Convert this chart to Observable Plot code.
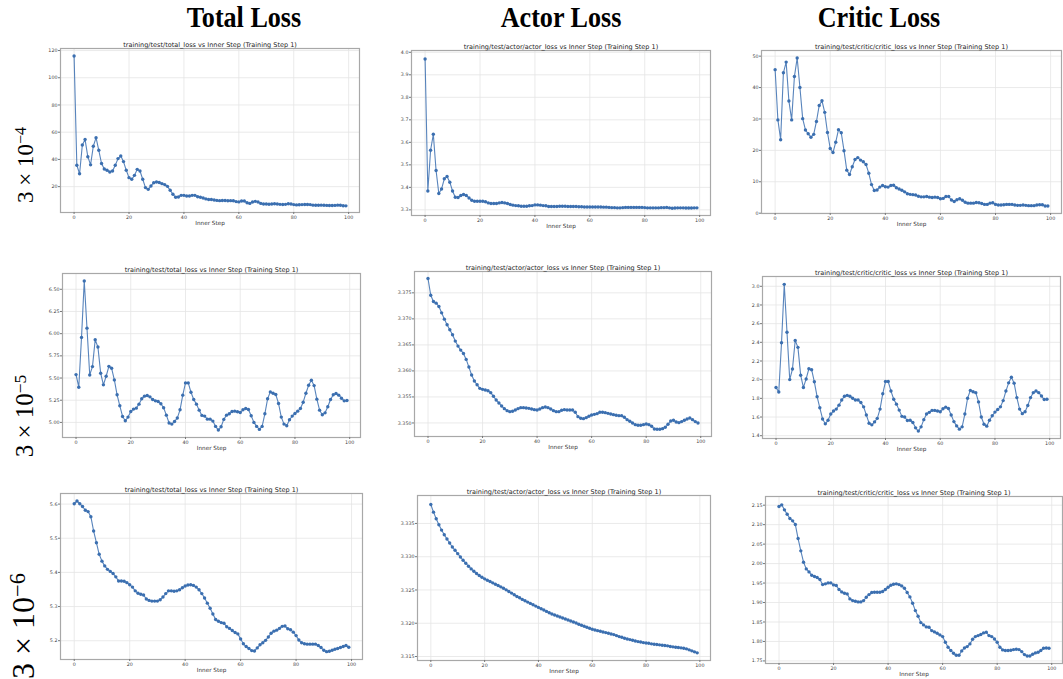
<!DOCTYPE html>
<html><head><meta charset="utf-8">
<script src="https://cdn.jsdelivr.net/npm/d3@7"></script>
<script src="https://cdn.jsdelivr.net/npm/@observablehq/plot@0.6"></script>
<style>
body{margin:0;background:#fff;}
#wrap{position:relative;width:1063px;height:679px;overflow:hidden;background:#fff;}
.col{position:absolute;top:0px;font-family:"Liberation Serif",serif;font-weight:bold;font-size:30px;line-height:34px;transform:translateX(-50%) scaleX(0.87);white-space:nowrap;color:#000;}
.row{position:absolute;font-family:"Liberation Serif",serif;white-space:nowrap;transform:translate(-50%,-50%) rotate(-90deg);color:#000;}
.row sup{font-size:0.7em;vertical-align:0.4em;line-height:0;}
.panel{position:absolute;}
</style></head>
<body><div id="wrap"></div>
<script>
// ---------- data ----------
const steps = d3.range(100);
const xTicks = [0, 20, 40, 60, 80, 100];
const colTitles = ["Total Loss", "Actor Loss", "Critic Loss"];
const rowBase = ["3 × 10", "3 × 10", "3 × 10"];
const rowExp = ["−4", "−5", "−6"];
const panelTitles = [
  "training/test/total_loss vs Inner Step (Training Step 1)",
  "training/test/actor/actor_loss vs Inner Step (Training Step 1)",
  "training/test/critic/critic_loss vs Inner Step (Training Step 1)"
];
const xLabel = "Inner Step";

// row 1 : 3e-4
const total4 = [116, 35.7, 29.5, 50.6, 54.6, 42, 36, 49.7, 56, 46.7,
  37, 33, 32, 30.8, 31.5, 35.7, 40.6, 42.5, 38.4, 32,
  26.6, 25.4, 28.3, 32.7, 31.5, 25.4, 19.3, 18, 20.5, 22.9,
  23.4, 23, 22.2, 21.5, 20.2, 17.3, 14.4, 12.2, 12.4, 13.6,
  13.6, 13.1, 13.1, 13.6, 13.6, 12.6, 12.2, 11.7, 11, 10.5,
  10.5, 10.2, 9.9, 9.7, 9.8, 9.8, 9.6, 9.7, 9.6, 9.0,
  8.8, 9.5, 9.5, 8.2, 7.7, 8.7, 9.2, 8.7, 7.7, 7.3,
  7.2, 7.1, 7.3, 7.4, 7.2, 7.0, 6.9, 7.0, 7.4, 7.3,
  6.8, 6.6, 6.7, 6.8, 6.9, 6.9, 6.8, 6.4, 6.3, 6.3,
  6.4, 6.3, 6.2, 6.1, 6.1, 6.2, 6.4, 6.3, 6.0, 5.9];
const actor4 = [3.97, 3.384, 3.565, 3.636, 3.475, 3.373, 3.393, 3.438, 3.448, 3.423,
  3.384, 3.356, 3.355, 3.364, 3.368, 3.364, 3.353, 3.343, 3.338, 3.338,
  3.338, 3.338, 3.336, 3.331, 3.328, 3.328, 3.328, 3.331, 3.333, 3.331,
  3.328, 3.324, 3.321, 3.319, 3.318, 3.316, 3.316, 3.316, 3.318, 3.319,
  3.322, 3.322, 3.321, 3.319, 3.318, 3.315, 3.315, 3.315, 3.315, 3.316,
  3.316, 3.316, 3.315, 3.315, 3.315, 3.315, 3.314, 3.314, 3.313, 3.313,
  3.313, 3.313, 3.313, 3.313, 3.313, 3.312, 3.312, 3.311, 3.310, 3.310,
  3.309, 3.309, 3.310, 3.311, 3.311, 3.311, 3.311, 3.311, 3.311, 3.311,
  3.310, 3.309, 3.309, 3.309, 3.309, 3.309, 3.310, 3.310, 3.311, 3.309,
  3.307, 3.308, 3.309, 3.309, 3.309, 3.308, 3.308, 3.308, 3.309, 3.309];
const critic4 = [45.7, 29.7, 23.4, 44.7, 48.1, 35.7, 29.7, 43.5, 49.4, 40,
  30.1, 26.5, 25.3, 24.2, 25.1, 29.2, 34.3, 35.8, 32.1, 25.7,
  20.6, 19.3, 22.6, 26.6, 25.6, 19.9, 13.7, 12.3, 14.8, 17.1,
  17.7, 16.9, 16.4, 15.5, 12.7, 9.1, 7.2, 7.4, 8.3, 8.8,
  8.4, 8.3, 8.8, 8.9, 8.1, 7.7, 7.3, 6.8, 6.2, 6.0,
  5.9, 5.8, 5.4, 5.2, 5.2, 5.3, 5.1, 5.0, 5.1, 5.0,
  4.6, 4.7, 5.3, 5.3, 4.2, 3.7, 4.3, 4.6, 4.1, 3.5,
  3.2, 3.2, 3.2, 3.4, 3.3, 3.1, 2.8, 2.8, 3.2, 3.3,
  2.8, 2.6, 2.6, 2.7, 2.8, 2.8, 2.8, 2.6, 2.5, 2.5,
  2.6, 2.5, 2.4, 2.4, 2.4, 2.6, 2.7, 2.7, 2.3, 2.3];

// row 2 : 3e-5
const total5 = [5.539, 5.397, 5.958, 6.594, 6.062, 5.535, 5.629, 5.932, 5.849, 5.554,
  5.423, 5.52, 5.632, 5.61, 5.479, 5.311, 5.187, 5.067, 5.019, 5.06,
  5.123, 5.15, 5.161, 5.206, 5.266, 5.296, 5.303, 5.288, 5.258, 5.243,
  5.236, 5.21, 5.165, 5.082, 4.993, 4.981, 5.011, 5.049, 5.142, 5.307,
  5.445, 5.445, 5.34, 5.258, 5.206, 5.138, 5.079, 5.071, 5.037, 5.037,
  5.015, 4.955, 4.914, 4.951, 5.034, 5.082, 5.097, 5.123, 5.127, 5.12,
  5.112, 5.142, 5.157, 5.146, 5.075, 5.0, 4.955, 4.921, 4.955, 5.097,
  5.266, 5.344, 5.329, 5.314, 5.213, 5.06, 4.981, 4.963, 5.03, 5.071,
  5.101, 5.127, 5.157, 5.228, 5.329, 5.419, 5.475, 5.415, 5.262, 5.138,
  5.086, 5.108, 5.176, 5.258, 5.311, 5.325, 5.307, 5.273, 5.243, 5.247];
const actor5 = [3.37775, 3.37455, 3.37334, 3.37302, 3.37238, 3.37116, 3.36995, 3.36886, 3.36790, 3.36694,
  3.36573, 3.36477, 3.36400, 3.36336, 3.36221, 3.36074, 3.35921, 3.35806, 3.35735, 3.35665,
  3.35646, 3.35633, 3.35620, 3.35582, 3.35512, 3.35441, 3.35384, 3.35326, 3.35275, 3.35237,
  3.35217, 3.35224, 3.35249, 3.35275, 3.35294, 3.35294, 3.35288, 3.35281, 3.35269, 3.35256,
  3.35249, 3.35269, 3.35294, 3.35307, 3.35294, 3.35269, 3.35237, 3.35217, 3.35217, 3.35243,
  3.35256, 3.35249, 3.35249, 3.35249, 3.35205, 3.35121, 3.35090, 3.35083, 3.35102, 3.35128,
  3.35153, 3.35166, 3.35179, 3.35205, 3.35205, 3.35198, 3.35185, 3.35173, 3.35160, 3.35147,
  3.35141, 3.35141, 3.35109, 3.35064, 3.35032, 3.35000, 3.34968, 3.34955, 3.34955, 3.34968,
  3.34981, 3.34968, 3.34936, 3.34885, 3.34879, 3.34879, 3.34891, 3.34917, 3.34974, 3.35038,
  3.35051, 3.35019, 3.35006, 3.35026, 3.35051, 3.35077, 3.35096, 3.35064, 3.35026, 3.35000];
const critic5 = [1.917, 1.868, 2.395, 3.021, 2.508, 2.001, 2.114, 2.42, 2.346, 2.047,
  1.917, 2.008, 2.117, 2.107, 1.977, 1.818, 1.699, 1.579, 1.527, 1.565,
  1.632, 1.664, 1.685, 1.727, 1.783, 1.822, 1.832, 1.822, 1.801, 1.783,
  1.783, 1.755, 1.709, 1.622, 1.534, 1.516, 1.548, 1.586, 1.685, 1.85,
  1.98, 1.98, 1.878, 1.79, 1.738, 1.674, 1.607, 1.6, 1.562, 1.565,
  1.541, 1.484, 1.449, 1.495, 1.572, 1.632, 1.65, 1.671, 1.671, 1.664,
  1.657, 1.688, 1.706, 1.692, 1.622, 1.551, 1.505, 1.47, 1.495, 1.632,
  1.801, 1.885, 1.871, 1.861, 1.762, 1.6, 1.523, 1.502, 1.565, 1.614,
  1.653, 1.681, 1.709, 1.776, 1.878, 1.966, 2.026, 1.963, 1.808, 1.685,
  1.636, 1.657, 1.723, 1.808, 1.861, 1.878, 1.861, 1.825, 1.787, 1.79];

// row 3 : 3e-6
const total6 = [5.601, 5.609, 5.601, 5.593, 5.582, 5.578, 5.563, 5.521, 5.487, 5.453,
  5.433, 5.419, 5.409, 5.403, 5.397, 5.387, 5.375, 5.375, 5.374, 5.37,
  5.364, 5.357, 5.346, 5.339, 5.336, 5.334, 5.322, 5.318, 5.316, 5.316,
  5.316, 5.32, 5.328, 5.338, 5.346, 5.346, 5.345, 5.346, 5.349, 5.355,
  5.36, 5.363, 5.364, 5.362, 5.357, 5.349, 5.338, 5.325, 5.31, 5.295,
  5.278, 5.262, 5.257, 5.253, 5.251, 5.241, 5.236, 5.23, 5.224, 5.22,
  5.205, 5.191, 5.183, 5.177, 5.171, 5.17, 5.179, 5.188, 5.194, 5.201,
  5.211, 5.222, 5.228, 5.231, 5.236, 5.242, 5.243, 5.235, 5.232, 5.225,
  5.215, 5.202, 5.194, 5.191, 5.19, 5.19, 5.19, 5.19, 5.186, 5.18,
  5.172, 5.168, 5.169, 5.172, 5.175, 5.177, 5.18, 5.183, 5.186, 5.181];
const actor6 = [3.33784, 3.33670, 3.33570, 3.33480, 3.33400, 3.33330, 3.33266, 3.33206, 3.33146, 3.33096,
  3.33046, 3.32996, 3.32946, 3.32901, 3.32857, 3.32817, 3.32782, 3.32747, 3.32717, 3.32692,
  3.32667, 3.32647, 3.32627, 3.32607, 3.32587, 3.32567, 3.32547, 3.32527, 3.32502, 3.32478,
  3.32453, 3.32428, 3.32403, 3.32383, 3.32358, 3.32338, 3.32318, 3.32298, 3.32278, 3.32258,
  3.32238, 3.32218, 3.32198, 3.32178, 3.32158, 3.32138, 3.32123, 3.32108, 3.32094, 3.32079,
  3.32064, 3.32049, 3.32034, 3.32019, 3.32004, 3.31984, 3.31969, 3.31954, 3.31939, 3.31924,
  3.31909, 3.31899, 3.31889, 3.31879, 3.31869, 3.31859, 3.31849, 3.31839, 3.31829, 3.31814,
  3.31799, 3.31789, 3.31774, 3.31764, 3.31754, 3.31744, 3.31734, 3.31724, 3.31719, 3.31709,
  3.31704, 3.31699, 3.31690, 3.31685, 3.31680, 3.31675, 3.31670, 3.31665, 3.31660, 3.31650,
  3.31645, 3.31640, 3.31635, 3.31630, 3.31625, 3.31615, 3.31600, 3.31585, 3.31570, 3.31555];
const critic6 = [2.1466, 2.1509, 2.138, 2.1269, 2.1157, 2.1097, 2.1003, 2.0643, 2.0327, 2.0035,
  1.9864, 1.9787, 1.9701, 1.9667, 1.9641, 1.959, 1.9461, 1.9479, 1.9504, 1.9504,
  1.9453, 1.9436, 1.9333, 1.9273, 1.9239, 1.9222, 1.9093, 1.905, 1.9033, 1.9016,
  1.9016, 1.905, 1.9136, 1.9204, 1.9256, 1.9264, 1.9264, 1.9264, 1.9282, 1.9333,
  1.9393, 1.9444, 1.947, 1.9479, 1.9461, 1.9427, 1.9367, 1.9256, 1.9145, 1.8982,
  1.8793, 1.8648, 1.8485, 1.8425, 1.8374, 1.8365, 1.8279, 1.8245, 1.8211, 1.8168,
  1.8125, 1.798, 1.7851, 1.7766, 1.7697, 1.7646, 1.7646, 1.7757, 1.7834, 1.7868,
  1.7937, 1.8057, 1.8125, 1.8151, 1.8177, 1.822, 1.8237, 1.8151, 1.8125, 1.8065,
  1.798, 1.7851, 1.7783, 1.7766, 1.7766, 1.7774, 1.7791, 1.78, 1.7791, 1.774,
  1.7663, 1.7628, 1.7628, 1.7671, 1.7706, 1.7723, 1.7766, 1.7825, 1.7834, 1.7825];

// y tick labels for each panel
const yTicks = [
  [[20, 40, 60, 80, 100, 120], [3.3, 3.4, 3.5, 3.6, 3.7, 3.8, 3.9, 4.0], [0, 10, 20, 30, 40, 50]],
  [[5.0, 5.25, 5.5, 5.75, 6.0, 6.25, 6.5], [3.350, 3.355, 3.360, 3.365, 3.370, 3.375], [1.4, 1.6, 1.8, 2.0, 2.2, 2.4, 2.6, 2.8, 3.0]],
  [[5.2, 5.3, 5.4, 5.5, 5.6], [3.315, 3.320, 3.325, 3.330, 3.335], [1.75, 1.80, 1.85, 1.90, 1.95, 2.00, 2.05, 2.10, 2.15]]
];
const yFormats = [["d", ".1f", "d"], [".2f", ".3f", ".1f"], [".1f", ".3f", ".2f"]];
const series = [[total4, actor4, critic4], [total5, actor5, critic5], [total6, actor6, critic6]];

// ---------- layout ----------
const yDomains = [
  [[1.0, 121.5], [3.275, 4.008], [-0.1, 51.8]],
  [[4.83, 6.678], [3.3474, 3.3791], [1.37, 3.105]],
  [[5.145, 5.631], [3.3144, 3.3392], [1.7434, 2.1723]]
];
const boxes = [
  [{x: 60, y: 48, w: 299, h: 164}, {x: 411, y: 50, w: 299, h: 165}, {x: 761, y: 50, w: 300, h: 163}],
  [{x: 62, y: 273, w: 298, h: 164}, {x: 414, y: 271, w: 297, h: 165}, {x: 762, y: 276, w: 298, h: 162}],
  [{x: 60, y: 493, w: 302, h: 166}, {x: 417, y: 495, w: 293, h: 165}, {x: 765, y: 496, w: 297, h: 167}]
];
const colCenters = [244, 561, 879];
const rowCenters = [{x: 25, y: 165, fs: 23}, {x: 25, y: 416, fs: 25}, {x: 23, y: 626, fs: 32}];

const wrap = document.getElementById("wrap");
colTitles.forEach((t, i) => {
  const d = document.createElement("div");
  d.className = "col"; d.textContent = t; d.style.left = colCenters[i] + "px";
  wrap.appendChild(d);
});
rowBase.forEach((t, i) => {
  const d = document.createElement("div");
  d.className = "row";
  d.innerHTML = t + "<sup>" + rowExp[i] + "</sup>";
  const p = rowCenters[i];
  d.style.left = p.x + "px"; d.style.top = p.y + "px";
  d.style.fontSize = p.fs + "px"; d.style.lineHeight = Math.round(p.fs * 1.1) + "px";
  wrap.appendChild(d);
});

const blue = "#3b6fb0";
const mL = 30, mR = 6, mT = 14, mB = 22;
for (let r = 0; r < 3; r++) {
  for (let c = 0; c < 3; c++) {
    const b = boxes[r][c];
    const data = series[r][c].map((v, i) => ({step: steps[i], v}));
    const fmt = d3.format(yFormats[r][c]);
    const chart = Plot.plot({
      width: b.w + mL + mR, height: b.h + mT + mB,
      marginLeft: mL, marginRight: mR, marginTop: mT, marginBottom: mB,
      style: {fontFamily: "DejaVu Sans", fontSize: "4.8px", color: "#444", background: "transparent", overflow: "visible"},
      x: {domain: [-4.95, 103.95]},
      y: {domain: yDomains[r][c]},
      marks: [
        Plot.gridX(xTicks, {stroke: "#e4e4e4", strokeOpacity: 1, strokeWidth: 0.8}),
        Plot.gridY(yTicks[r][c], {stroke: "#e4e4e4", strokeOpacity: 1, strokeWidth: 0.8}),
        Plot.frame({stroke: "#a8a8a8", strokeWidth: 1.2}),
        Plot.line(data, {x: "step", y: "v", stroke: blue, strokeWidth: 1.1, strokeOpacity: 0.85}),
        Plot.dot(data, {x: "step", y: "v", r: 1.7, fill: blue, stroke: "none"}),
        Plot.axisX(xTicks, {tickSize: 2, tickPadding: 1, label: null, stroke: "#777"}),
        Plot.axisY(yTicks[r][c], {tickSize: 2, tickPadding: 1, label: null, tickFormat: fmt, stroke: "#777"}),
        Plot.text([panelTitles[c]], {text: d => d, frameAnchor: "top", dy: -6, fontSize: 6.5, fill: "#222"}),
        Plot.text([xLabel], {text: d => d, frameAnchor: "bottom", dy: 12, fontSize: 5.7, fill: "#333"})
      ]
    });
    chart.classList.add("panel");
    chart.style.left = (b.x - mL) + "px";
    chart.style.top = (b.y - mT) + "px";
    wrap.appendChild(chart);
  }
}
</script>
</body></html>
